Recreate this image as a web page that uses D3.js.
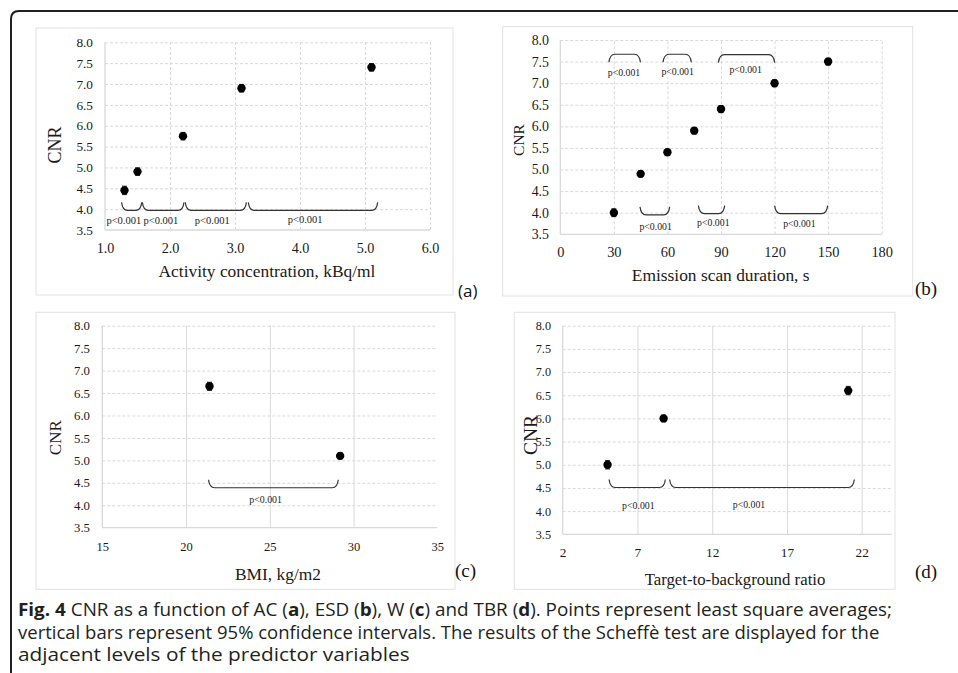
<!DOCTYPE html>
<html>
<head>
<meta charset="utf-8">
<script src="https://cdn.jsdelivr.net/npm/d3@7"></script>
<style>
  body { margin: 0; background: #fff; }
  svg { display: block; }
</style>
</head>
<body>
<svg id="figure" width="958" height="673"></svg>
<script>
// ---- data ----
const cnrTicks = [3.5, 4.0, 4.5, 5.0, 5.5, 6.0, 6.5, 7.0, 7.5, 8.0];

const acTicks = [1, 2, 3, 4, 5, 6];
const acLevels = [1.3, 1.5, 2.2, 3.1, 5.1];
const acCnr = [4.45, 4.9, 5.75, 6.9, 7.4];
const acCi = [0.1, 0.09, 0.09, 0.09, 0.09];
const acBraces = [[1.27, 1.55], [1.59, 2.2], [2.25, 3.16], [3.22, 5.18]];
const acBraceLevel = [3.97, 3.97, 3.97, 3.97];
const acLabels = [[1.29, 3.74], [1.86, 3.74], [2.65, 3.74], [4.08, 3.75]];

const esdTicks = [0, 30, 60, 90, 120, 150, 180];
const esdLevels = [30, 45, 60, 75, 90, 120, 150];
const esdCnr = [4.0, 4.9, 5.4, 5.9, 6.4, 7.0, 7.5];
const esdCi = [0.09, 0.07, 0.07, 0.07, 0.08, 0.08, 0.08];
const esdBracesTop = [[27.8, 44.3], [58.1, 72.8], [89.1, 119.5]];
const esdBraceTopLevel = [7.67, 7.67, 7.66];
const esdLabelsTop = [[35.7, 7.24], [65.7, 7.28], [103.8, 7.31]];
const esdBracesBottom = [[45.2, 60.7], [77.9, 91.5], [120.6, 149.2]];
const esdBraceBottomLevel = [3.95, 3.98, 3.98];
const esdLabelsBottom = [[53.4, 3.69], [85.7, 3.77], [133.9, 3.75]];

const bmiTicks = [15, 20, 25, 30, 35];
const bmiLevels = [21.4, 29.2];
const bmiCnr = [6.65, 5.1];
const bmiCi = [0.09, 0.07];
const bmiBraces = [[21.4, 29.03]];
const bmiBraceLevel = [4.39];
const bmiLabels = [[24.75, 4.13]];

const tbrTicks = [2, 7, 12, 17, 22];
const tbrLevels = [5, 8.75, 21.1];
const tbrCnr = [5.0, 6.0, 6.6];
const tbrCi = [0.09, 0.07, 0.09];
const tbrBraces = [[5.17, 8.8], [9.22, 21.44]];
const tbrBraceLevel = [4.51, 4.51];
const tbrLabels = [[7.06, 4.13], [14.46, 4.15]];

const captionLines = [
  [['Fig. 4', true], [' CNR as a function of AC (', false], ['a', true], ['), ESD (', false],
   ['b', true], ['), W (', false], ['c', true], [') and TBR (', false], ['d', true],
   ['). Points represent least square averages;', false]],
  [['vertical bars represent 95% confidence intervals. The results of the Scheffè test are displayed for the', false]],
  [['adjacent levels of the predictor variables', false]]
];

// ---- drawing ----
const SERIF = '"Liberation Serif", "Times New Roman", serif';
const GRID = '#d9d9d9';
const svg = d3.select('#figure');

// outer rounded frame (clipped by the page on right and bottom)
svg.append('path')
  .attr('d', 'M11,673 L11,19 Q11,11 19,11 L958,11')
  .attr('fill', 'none')
  .attr('stroke', '#231f20')
  .attr('stroke-width', 2);

function bracePath(x, y, x0, x1, level, dir) {
  // dir = 1: ends point up (bracket under), dir = -1: ends point down
  const xa = x(x0), xb = x(x1), yb = y(level), yt = yb - dir * 8, r = 5;
  return `M${xa - 1},${yt} Q${xa},${yb} ${xa + r},${yb} L${xb - r},${yb} Q${xb},${yb} ${xb + 1},${yt}`;
}

function drawPanel(p) {
  const { plot, box } = p;
  const x = d3.scaleLinear().domain(p.xDomain).range([plot.left, plot.right]);
  const y = d3.scaleLinear().domain([3.5, 8]).range([plot.bottom, plot.top]);
  const g = svg.append('g');

  g.append('rect')
    .attr('x', box[0]).attr('y', box[1])
    .attr('width', box[2] - box[0]).attr('height', box[3] - box[1])
    .attr('fill', 'none').attr('stroke', '#e2e2e2');

  // horizontal gridlines
  g.append('g')
    .attr('transform', `translate(${plot.left},0)`)
    .call(d3.axisLeft(y).tickValues(cnrTicks.slice(1))
      .tickSize(-(plot.right - plot.left)).tickFormat(''))
    .call(a => a.select('.domain').remove())
    .selectAll('line')
    .attr('stroke', GRID).attr('stroke-dasharray', '3,2');

  // vertical gridlines
  g.append('g')
    .attr('transform', `translate(0,${plot.bottom})`)
    .call(d3.axisBottom(x).tickValues(p.xTicks.filter(v => v !== p.xDomain[0] && v <= p.xDomain[1] && (p.rightGrid || v !== p.xDomain[1])))
      .tickSize(-(plot.bottom - plot.top)).tickFormat(''))
    .call(a => a.select('.domain').remove())
    .selectAll('line')
    .attr('stroke', GRID).attr('stroke-dasharray', p.vDash ? '3,2' : null);

  // axis lines
  g.append('line')
    .attr('x1', plot.left).attr('x2', plot.left)
    .attr('y1', plot.top).attr('y2', plot.bottom)
    .attr('stroke', GRID).attr('stroke-width', 1.3);
  g.append('line')
    .attr('x1', plot.left).attr('x2', plot.right)
    .attr('y1', plot.bottom).attr('y2', plot.bottom)
    .attr('stroke', GRID).attr('stroke-width', 1.3);

  // tick labels
  g.append('g')
    .attr('transform', `translate(${p.yLabelX},0)`)
    .call(d3.axisLeft(y).tickValues(cnrTicks).tickSize(0).tickPadding(0).tickFormat(d3.format('.1f')))
    .call(a => a.select('.domain').remove())
    .attr('font-family', SERIF).attr('font-size', p.yTickSize)
    .selectAll('text').attr('fill', '#1a1a1a');

  g.append('g')
    .attr('transform', `translate(0,${p.xLabelY})`)
    .call(d3.axisBottom(x).tickValues(p.xTicks).tickSize(0).tickFormat(p.xFormat))
    .call(a => a.select('.domain').remove())
    .attr('font-family', SERIF).attr('font-size', p.xTickSize)
    .selectAll('text').attr('y', 0).attr('dy', '0.35em').attr('fill', '#1a1a1a');

  // titles
  g.append('text')
    .attr('x', p.title[0]).attr('y', p.title[1])
    .attr('dy', '0.35em').attr('text-anchor', 'middle')
    .attr('font-family', SERIF).attr('font-size', p.titleSize).attr('fill', '#1a1a1a')
    .text(p.titleText);

  g.append('text')
    .attr('transform', `translate(${p.cnr[0]},${p.cnr[1]}) rotate(-90)`)
    .attr('dy', '0.35em').attr('text-anchor', 'middle')
    .attr('font-family', SERIF).attr('font-size', p.cnrSize).attr('fill', '#1a1a1a')
    .text('CNR');

  // braces with p-values
  p.braces.forEach(b => {
    g.selectAll(null)
      .data(b.spans)
      .enter()
      .append('path')
      .attr('d', (d, i) => bracePath(x, y, d[0], d[1], b.level[i], b.dir))
      .attr('fill', 'none').attr('stroke', '#333').attr('stroke-width', 1.2);
    g.selectAll(null)
      .data(b.labels)
      .enter()
      .append('text')
      .attr('x', d => x(d[0])).attr('y', d => y(d[1]))
      .attr('dy', '0.35em').attr('text-anchor', 'middle')
      .attr('font-family', SERIF).attr('font-size', p.pSize).attr('fill', '#222')
      .text('p<0.001');
  });

  // error bars and points
  const pts = p.levels.map((v, i) => ({ x: v, y: p.cnr_[i], ci: p.ci[i] }));
  const eb = g.append('g').attr('stroke', '#333').attr('stroke-width', 1.1);
  pts.forEach(d => {
    eb.append('line').attr('x1', x(d.x)).attr('x2', x(d.x))
      .attr('y1', y(d.y - d.ci)).attr('y2', y(d.y + d.ci));
    [d.y - d.ci, d.y + d.ci].forEach(v => {
      eb.append('line').attr('x1', x(d.x) - 2.5).attr('x2', x(d.x) + 2.5)
        .attr('y1', y(v)).attr('y2', y(v));
    });
  });
  g.selectAll(null)
    .data(pts)
    .enter()
    .append('circle')
    .attr('cx', d => x(d.x)).attr('cy', d => y(d.y))
    .attr('r', 4.2).attr('fill', '#000');

  // panel letter
  g.append('text')
    .attr('x', p.letter[0]).attr('y', p.letter[1])
    .attr('font-family', p.letterFont).attr('font-size', p.letterSize).attr('fill', '#111')
    .text(p.letterText);
}

drawPanel({
  box: [36, 28, 453, 295],
  plot: { left: 105, right: 430, top: 42.3, bottom: 230 },
  xDomain: [1, 6], xTicks: acTicks, xFormat: d3.format('.1f'), vDash: true, rightGrid: true,
  levels: acLevels, cnr_: acCnr, ci: acCi,
  braces: [{ spans: acBraces, level: acBraceLevel, labels: acLabels, dir: 1 }],
  yLabelX: 93, xLabelY: 248.3, yTickSize: 13.3, xTickSize: 14.2, pSize: 10.5,
  title: [267, 270.7], titleText: 'Activity concentration, kBq/ml', titleSize: 17.4,
  cnr: [55, 145], cnrSize: 18,
  letter: [458, 297], letterText: '(a)', letterFont: '"Open Sans", sans-serif', letterSize: 17
});

drawPanel({
  box: [502.7, 26.7, 912.7, 296],
  plot: { left: 560.3, right: 881.7, top: 40, bottom: 234.3 },
  xDomain: [0, 180], xTicks: esdTicks, xFormat: d3.format('d'), vDash: true, rightGrid: true,
  levels: esdLevels, cnr_: esdCnr, ci: esdCi,
  braces: [
    { spans: esdBracesTop, level: esdBraceTopLevel, labels: esdLabelsTop, dir: -1 },
    { spans: esdBracesBottom, level: esdBraceBottomLevel, labels: esdLabelsBottom, dir: 1 }
  ],
  yLabelX: 549, xLabelY: 252.3, yTickSize: 13.9, xTickSize: 14.4, pSize: 9.8,
  title: [720.7, 275.3], titleText: 'Emission scan duration, s', titleSize: 17.4,
  cnr: [519, 140], cnrSize: 15.5,
  letter: [915, 295], letterText: '(b)', letterFont: SERIF, letterSize: 19
});

drawPanel({
  box: [36, 312.3, 455, 589.3],
  plot: { left: 102.3, right: 437.3, top: 325.7, bottom: 527.7 },
  xDomain: [15, 35], xTicks: bmiTicks, xFormat: d3.format('d'), vDash: false, rightGrid: false,
  levels: bmiLevels, cnr_: bmiCnr, ci: bmiCi,
  braces: [{ spans: bmiBraces, level: bmiBraceLevel, labels: bmiLabels, dir: 1 }],
  yLabelX: 90, xLabelY: 546.7, yTickSize: 12.8, xTickSize: 12.5, pSize: 9.9,
  title: [278, 574], titleText: 'BMI, kg/m2', titleSize: 17.4,
  cnr: [55, 437.7], cnrSize: 17,
  letter: [455, 577], letterText: '(c)', letterFont: SERIF, letterSize: 19
});

drawPanel({
  box: [514.3, 312.3, 895, 589.3],
  plot: { left: 562.7, right: 891.6, top: 325.7, bottom: 534.3 },
  xDomain: [2, 24], xTicks: tbrTicks, xFormat: d3.format('d'), vDash: false, rightGrid: false,
  levels: tbrLevels, cnr_: tbrCnr, ci: tbrCi,
  braces: [{ spans: tbrBraces, level: tbrBraceLevel, labels: tbrLabels, dir: 1 }],
  yLabelX: 551, xLabelY: 552.3, yTickSize: 12.2, xTickSize: 13.3, pSize: 9.8,
  title: [735, 579], titleText: 'Target-to-background ratio', titleSize: 16.8,
  cnr: [530, 435], cnrSize: 19.5,
  letter: [915, 578], letterText: '(d)', letterFont: SERIF, letterSize: 19
});

// caption, each line squeezed to the width it has in the figure
const captionBaselines = [616, 639, 661];
const captionWidths = [875, 862, 392];
captionLines.forEach((parts, i) => {
  const t = svg.append('text')
    .attr('font-family', '"Open Sans", sans-serif')
    .attr('font-size', 17.5)
    .attr('fill', '#231f20');
  parts.forEach(([s, bold]) => {
    t.append('tspan').attr('font-weight', bold ? 700 : 400).text(s);
  });
  const w = t.node().getComputedTextLength();
  t.attr('transform', `translate(18,${captionBaselines[i]}) scale(${captionWidths[i] / w},1)`);
});
</script>
</body>
</html>
